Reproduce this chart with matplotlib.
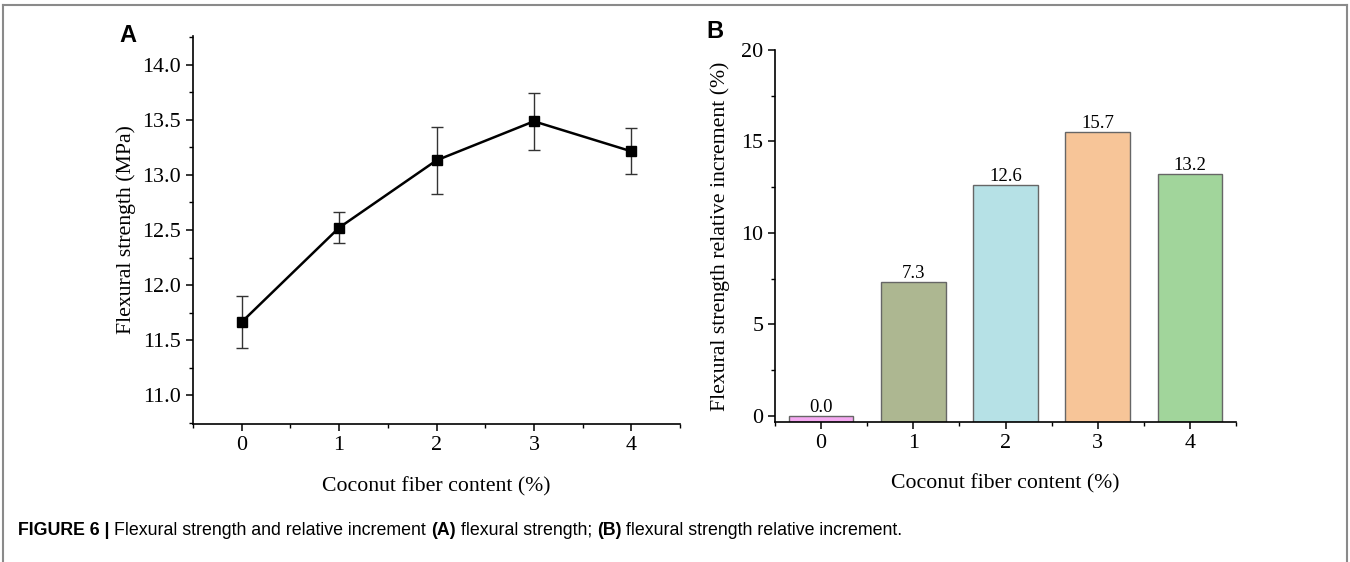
import matplotlib
matplotlib.use("Agg")
import matplotlib.pyplot as plt
from matplotlib.lines import Line2D
from matplotlib.ticker import MultipleLocator, FormatStrFormatter

# ---- data ----
fiber_content = [0, 1, 2, 3, 4]
flexural_strength = [11.665, 12.521, 13.132, 13.486, 13.214]
flexural_err = [0.233, 0.138, 0.302, 0.260, 0.207]

increment_values = [0.0, 7.3, 12.6, 15.5, 13.2]
increment_labels = ["0.0", "7.3", "12.6", "15.7", "13.2"]
bar_colors = ["#F4A9F1", "#ADB791", "#B6E1E6", "#F7C598", "#A1D59B"]

xlabel = "Coconut fiber content (%)"
ylabel_a = "Flexural strength (MPa)"
ylabel_b = "Flexural strength relative increment (%)"
caption_parts = [("FIGURE 6 | ", "bold"), ("Flexural strength and relative increment ", "normal"),
                 ("(A)", "bold"), (" flexural strength; ", "normal"), ("(B)", "bold"),
                 (" flexural strength relative increment.", "normal")]

serif = ["Liberation Serif", "DejaVu Serif"]
sans = ["Liberation Sans", "DejaVu Sans"]

fig = plt.figure(figsize=(13.5, 5.62), dpi=100)
W, H = 1350, 562

def ax_rect(l, r, t, b):
    return [l / W, 1 - b / H, (r - l) / W, (b - t) / H]

tick_fs = 15.8
label_fs = 15.7

def style_axes(ax):
    for s in ["top", "right"]:
        ax.spines[s].set_visible(False)
    for s in ["left", "bottom"]:
        ax.spines[s].set_linewidth(1.2)
    ax.tick_params(which="major", direction="out", length=5, width=1.1, labelsize=tick_fs)
    ax.tick_params(which="minor", direction="out", length=3, width=1.0)
    for lab in ax.get_xticklabels() + ax.get_yticklabels():
        lab.set_fontfamily(serif)

# ---- Panel A ----
axA = fig.add_axes(ax_rect(193, 680, 36, 424))
axA.errorbar(fiber_content, flexural_strength, yerr=flexural_err, color="black",
             lw=1.8, marker="s", markersize=7, ecolor="#333333", elinewidth=1.0,
             capsize=4, capthick=1.0)
axA.set_xlim(-0.5, 4.5)
axA.set_ylim(10.74, 14.26)
axA.set_xticks(fiber_content)
axA.xaxis.set_minor_locator(MultipleLocator(0.5))
axA.yaxis.set_major_locator(MultipleLocator(0.5))
axA.yaxis.set_minor_locator(MultipleLocator(0.25))
axA.yaxis.set_major_formatter(FormatStrFormatter("%.1f"))
style_axes(axA)
axA.set_xlabel(xlabel, fontsize=label_fs, family=serif, labelpad=16)
axA.set_ylabel(ylabel_a, fontsize=label_fs, family=serif, labelpad=5)

# ---- Panel B ----
axB = fig.add_axes(ax_rect(775, 1236, 50, 422))
ymin_b = -0.33
axB.bar(fiber_content, [v - ymin_b for v in increment_values], bottom=ymin_b, width=0.7,
        color=bar_colors, edgecolor="#666666", linewidth=1.0)
for x, v, lab in zip(fiber_content, increment_values, increment_labels):
    axB.annotate(lab, (x, v), xytext=(0, 0), textcoords="offset points",
                 ha="center", va="bottom", fontsize=13.5, family=serif)
axB.set_xlim(-0.5, 4.5)
axB.set_ylim(ymin_b, 20)
axB.set_xticks(fiber_content)
axB.xaxis.set_minor_locator(MultipleLocator(0.5))
axB.yaxis.set_major_locator(MultipleLocator(5))
axB.yaxis.set_minor_locator(MultipleLocator(2.5))
style_axes(axB)
axB.set_xlabel(xlabel, fontsize=label_fs, family=serif, labelpad=15)
axB.set_ylabel(ylabel_b, fontsize=label_fs, family=serif, labelpad=8)

# ---- panel letters ----
fig.text(119 / W, 1 - 42 / H, "A", fontsize=17, fontweight="bold", family=sans, va="baseline")
fig.text(706 / W, 1 - 38 / H, "B", fontsize=17, fontweight="bold", family=sans, va="baseline")

# ---- caption ----
x = 18 / W
y = 1 - 535 / H
renderer = fig.canvas.get_renderer()
for txt, wt in caption_parts:
    t = fig.text(x, y, txt, fontsize=12.8, fontweight=wt, family=sans, va="baseline")
    bb = t.get_window_extent(renderer=renderer)
    x += bb.width / W

# ---- frame ----
frame_kw = dict(color="#8a8a8a", lw=1.5, transform=fig.transFigure)
fig.add_artist(Line2D([3 / W, 3 / W], [0, 1 - 5 / H], **frame_kw))
fig.add_artist(Line2D([3 / W, 1347 / W], [1 - 5 / H, 1 - 5 / H], **frame_kw))
fig.add_artist(Line2D([1347 / W, 1347 / W], [0, 1 - 5 / H], **frame_kw))

fig.savefig("out.png", dpi=100)
